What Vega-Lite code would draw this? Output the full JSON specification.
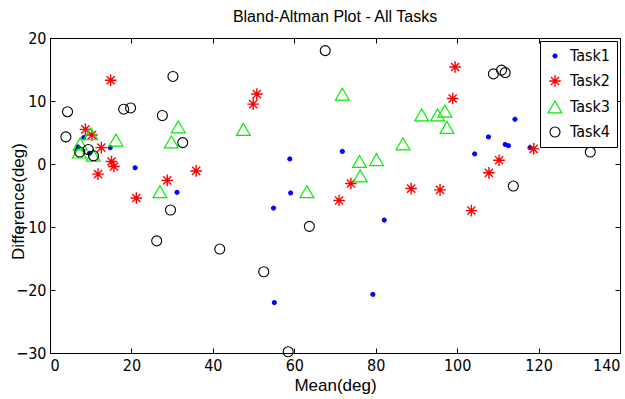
{
  "$schema": "https://vega.github.io/schema/vega-lite/v6.json",
  "width": 570,
  "height": 315,
  "autosize": {"type": "none"},
  "padding": {"left": 50, "top": 38, "right": 5, "bottom": 46},
  "background": "white",
  "title": {"text": "Bland-Altman Plot - All Tasks", "font": "Liberation Sans", "fontSize": 16, "fontWeight": "normal", "color": "black", "offset": 5, "anchor": "middle"},
  "config": {
    "view": {"stroke": "black", "strokeWidth": 1},
    "axis": {
      "domainColor": "black", "tickColor": "black", "tickSize": -5, "labelPadding": 9,
      "labelFont": "Liberation Sans Narrow, DejaVu Sans Condensed, sans-serif", "labelFontSize": 16, "labelColor": "black",
      "titleFont": "Liberation Sans", "titleFontSize": 17, "titleFontWeight": "normal", "titleColor": "black",
      "grid": false
    },
    "legend": {
      "orient": "top-right", "offset": 3, "strokeColor": "black", "fillColor": "white", "padding": 7,
      "labelFont": "Liberation Sans Narrow, DejaVu Sans Condensed, sans-serif", "labelFontSize": 16, "labelColor": "black",
      "rowPadding": 8, "labelOffset": 7, "cornerRadius": 0
    }
  },
  "data": {"values": [
    {"task": "Task1", "mean": 6.9, "diff": 2.7},
    {"task": "Task1", "mean": 8.3, "diff": 4.2},
    {"task": "Task1", "mean": 9.7, "diff": 1.7},
    {"task": "Task1", "mean": 14.8, "diff": 2.6},
    {"task": "Task1", "mean": 20.9, "diff": -0.6},
    {"task": "Task1", "mean": 31.2, "diff": -4.5},
    {"task": "Task1", "mean": 58.9, "diff": 0.8},
    {"task": "Task1", "mean": 71.8, "diff": 2.0},
    {"task": "Task1", "mean": 59.1, "diff": -4.6},
    {"task": "Task1", "mean": 54.9, "diff": -7.0},
    {"task": "Task1", "mean": 82.1, "diff": -8.9},
    {"task": "Task1", "mean": 55.1, "diff": -22.0},
    {"task": "Task1", "mean": 79.3, "diff": -20.7},
    {"task": "Task1", "mean": 114.2, "diff": 7.1},
    {"task": "Task1", "mean": 107.7, "diff": 4.3},
    {"task": "Task1", "mean": 111.8, "diff": 3.1},
    {"task": "Task1", "mean": 112.6, "diff": 2.9},
    {"task": "Task1", "mean": 104.3, "diff": 1.6},
    {"task": "Task1", "mean": 117.9, "diff": 2.6},
    {"task": "Task2", "mean": 14.9, "diff": 13.3},
    {"task": "Task2", "mean": 8.7, "diff": 5.5},
    {"task": "Task2", "mean": 10.3, "diff": 4.6},
    {"task": "Task2", "mean": 12.6, "diff": 2.6},
    {"task": "Task2", "mean": 15.1, "diff": 0.4},
    {"task": "Task2", "mean": 15.7, "diff": -0.4},
    {"task": "Task2", "mean": 11.8, "diff": -1.6},
    {"task": "Task2", "mean": 35.9, "diff": -1.1},
    {"task": "Task2", "mean": 28.8, "diff": -2.6},
    {"task": "Task2", "mean": 21.2, "diff": -5.4},
    {"task": "Task2", "mean": 50.8, "diff": 11.1},
    {"task": "Task2", "mean": 49.9, "diff": 9.5},
    {"task": "Task2", "mean": 73.9, "diff": -3.1},
    {"task": "Task2", "mean": 71.0, "diff": -5.8},
    {"task": "Task2", "mean": 88.7, "diff": -3.9},
    {"task": "Task2", "mean": 99.5, "diff": 15.4},
    {"task": "Task2", "mean": 98.9, "diff": 10.4},
    {"task": "Task2", "mean": 118.8, "diff": 2.4},
    {"task": "Task2", "mean": 110.3, "diff": 0.6},
    {"task": "Task2", "mean": 107.8, "diff": -1.4},
    {"task": "Task2", "mean": 95.8, "diff": -4.1},
    {"task": "Task2", "mean": 103.5, "diff": -7.4},
    {"task": "Task3", "mean": 10.0, "diff": 4.8},
    {"task": "Task3", "mean": 7.4, "diff": 3.2},
    {"task": "Task3", "mean": 7.2, "diff": 1.9},
    {"task": "Task3", "mean": 10.6, "diff": 1.4},
    {"task": "Task3", "mean": 16.2, "diff": 3.8},
    {"task": "Task3", "mean": 31.5, "diff": 5.9},
    {"task": "Task3", "mean": 29.8, "diff": 3.5},
    {"task": "Task3", "mean": 27.0, "diff": -4.4},
    {"task": "Task3", "mean": 47.5, "diff": 5.5},
    {"task": "Task3", "mean": 71.8, "diff": 11.1},
    {"task": "Task3", "mean": 91.3, "diff": 7.8},
    {"task": "Task3", "mean": 86.7, "diff": 3.2},
    {"task": "Task3", "mean": 76.0, "diff": 0.4},
    {"task": "Task3", "mean": 80.2, "diff": 0.7},
    {"task": "Task3", "mean": 76.2, "diff": -1.9},
    {"task": "Task3", "mean": 63.1, "diff": -4.4},
    {"task": "Task3", "mean": 95.2, "diff": 7.8},
    {"task": "Task3", "mean": 97.0, "diff": 8.4},
    {"task": "Task3", "mean": 97.5, "diff": 5.8},
    {"task": "Task4", "mean": 4.3, "diff": 8.3},
    {"task": "Task4", "mean": 3.9, "diff": 4.3},
    {"task": "Task4", "mean": 18.1, "diff": 8.7},
    {"task": "Task4", "mean": 19.8, "diff": 8.9},
    {"task": "Task4", "mean": 30.2, "diff": 13.9},
    {"task": "Task4", "mean": 27.6, "diff": 7.7},
    {"task": "Task4", "mean": 32.6, "diff": 3.4},
    {"task": "Task4", "mean": 7.3, "diff": 1.9},
    {"task": "Task4", "mean": 9.4, "diff": 2.3},
    {"task": "Task4", "mean": 10.7, "diff": 1.3},
    {"task": "Task4", "mean": 29.6, "diff": -7.3},
    {"task": "Task4", "mean": 26.2, "diff": -12.2},
    {"task": "Task4", "mean": 41.7, "diff": -13.5},
    {"task": "Task4", "mean": 67.6, "diff": 18.0},
    {"task": "Task4", "mean": 63.7, "diff": -9.9},
    {"task": "Task4", "mean": 52.5, "diff": -17.1},
    {"task": "Task4", "mean": 58.5, "diff": -29.8},
    {"task": "Task4", "mean": 108.9, "diff": 14.3},
    {"task": "Task4", "mean": 110.9, "diff": 14.9},
    {"task": "Task4", "mean": 111.8, "diff": 14.5},
    {"task": "Task4", "mean": 132.7, "diff": 1.9},
    {"task": "Task4", "mean": 113.8, "diff": -3.5}
  ]},
  "layer": [
    {
      "mark": {"type": "point", "opacity": 1, "clip": false},
      "encoding": {
        "x": {"field": "mean", "type": "quantitative", "scale": {"domain": [0, 140], "nice": false, "zero": false},
              "axis": {"title": "Mean(deg)", "values": [0, 20, 40, 60, 80, 100, 120, 140], "titlePadding": 4}},
        "y": {"field": "diff", "type": "quantitative", "scale": {"domain": [-30, 20], "nice": false, "zero": false},
              "axis": {"title": "Difference(deg)", "values": [-30, -20, -10, 0, 10, 20], "titleX": -32, "titleY": 163, "titleAlign": "center", "titleBaseline": "middle"}},
        "shape": {"field": "task", "type": "nominal", "legend": {"title": null},
                  "scale": {"domain": ["Task1", "Task2", "Task3", "Task4"], "range": ["circle", "M-1,0L1,0M0,-1L0,1M-0.7,-0.7L0.7,0.7M-0.7,0.7L0.7,-0.7", "triangle-up", "circle"]}},
        "stroke": {"field": "task", "type": "nominal", "legend": {"title": null},
                   "scale": {"domain": ["Task1", "Task2", "Task3", "Task4"], "range": ["#0000ff", "#ff0000", "#00ee00", "#000000"]}},
        "fill": {"field": "task", "type": "nominal", "legend": {"title": null},
                 "scale": {"domain": ["Task1", "Task2", "Task3", "Task4"], "range": ["#0000ff", "transparent", "transparent", "transparent"]}},
        "size": {"field": "task", "type": "nominal", "legend": {"title": null},
                 "scale": {"type": "ordinal", "domain": ["Task1", "Task2", "Task3", "Task4"], "range": [18, 135, 190, 100]}},
        "strokeWidth": {"field": "task", "type": "nominal", "legend": {"title": null},
                 "scale": {"type": "ordinal", "domain": ["Task1", "Task2", "Task3", "Task4"], "range": [1, 1.4, 1.2, 1.1]}}
      }
    },
    {
      "mark": {"type": "point", "opacity": 0},
      "encoding": {
        "x": {"field": "mean", "type": "quantitative", "scale": {"domain": [0, 140], "nice": false, "zero": false},
              "axis": {"orient": "top", "labels": false, "title": null, "values": [0, 20, 40, 60, 80, 100, 120, 140]}},
        "y": {"field": "diff", "type": "quantitative", "scale": {"domain": [-30, 20], "nice": false, "zero": false},
              "axis": {"orient": "right", "labels": false, "title": null, "values": [-30, -20, -10, 0, 10, 20]}}
      }
    }
  ],
  "resolve": {"axis": {"x": "independent", "y": "independent"}}
}
